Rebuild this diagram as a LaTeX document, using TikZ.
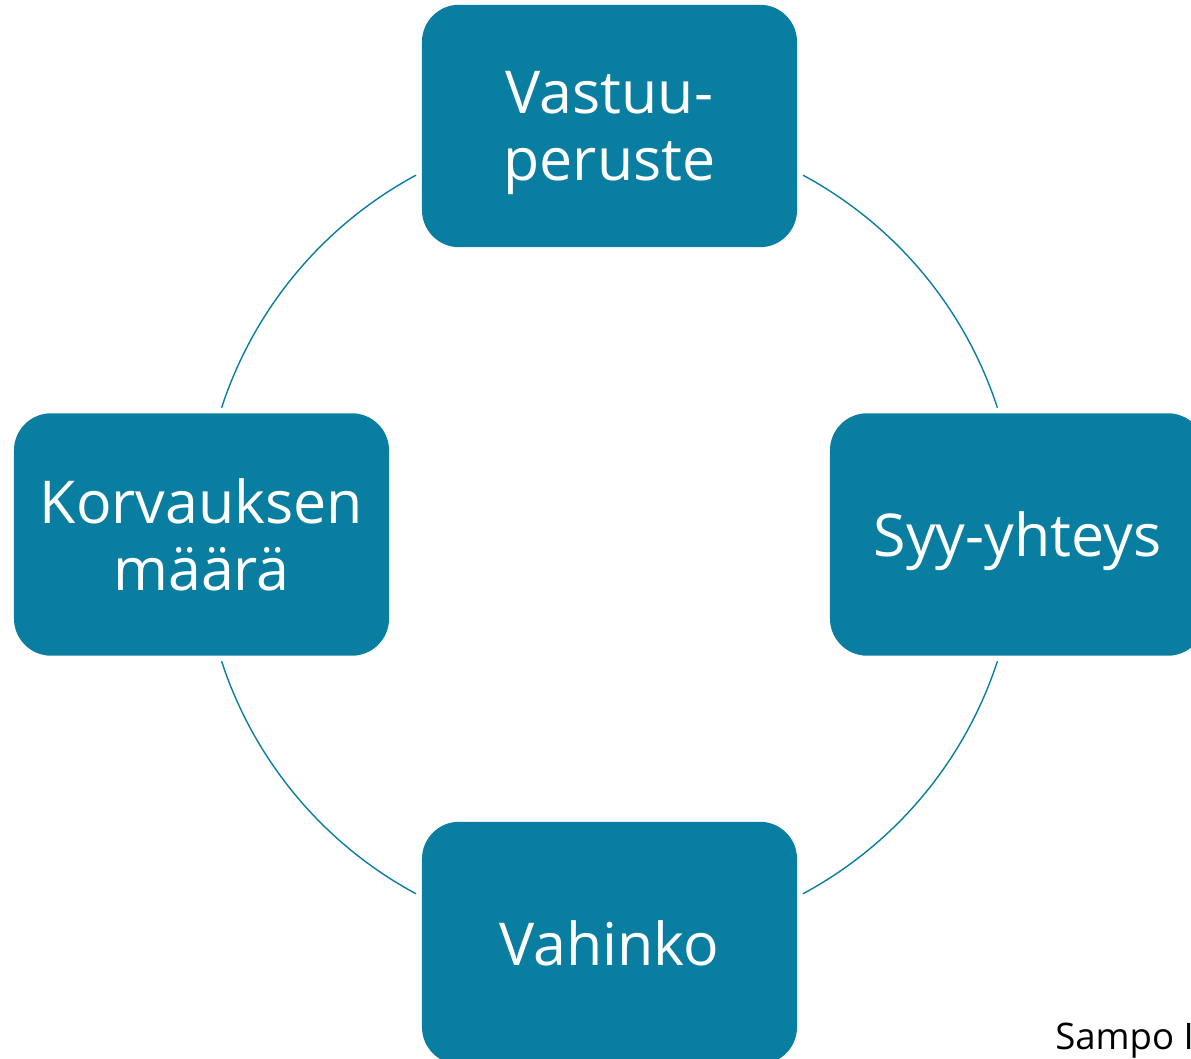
\documentclass[tikz,border=0pt]{standalone}
\usepackage{fontspec}
\setmainfont{Open Sans}
\definecolor{teal7}{RGB}{9,126,160}
\tikzset{
  box/.style={fill=teal7, text=white, rounded corners=0.93cm, minimum width=9.375cm,
    minimum height=6.06cm, inner sep=0pt, text depth=0pt, align=center,
    font=\fontsize{42}{47.7}\selectfont},
  ring/.style={draw=teal7, line width=1pt}
}
\begin{document}
\begin{tikzpicture}[x=0.025cm,y=0.025cm]
\useasboundingbox (0,0) rectangle (1191,1059);
\coordinate (c) at (609.5,524.5);
\node[box] (vastuu) at (609.5,933) {Vastuu-\\peruste};
\node[box] (syy) at (1017.5,524.5) {Syy-yhteys};
\node[box] (vahinko) at (609.5,116) {Vahinko};
\node[box] (korvaus) at (201.5,524.5) {Korvauksen\\määrä};
\node[anchor=base west, inner sep=0pt, font=\fontsize{26}{30}\selectfont] (nimi) at (1055,9) {Sampo I};
% ring between the boxes
\foreach \s/\e in {18.1/61.7, 118.3/161.9, 198.1/241.7, 298.3/341.9}
  \draw[ring] ([shift={(\s:10.2cm)}]c) arc[start angle=\s, end angle=\e, radius=10.2cm];
\end{tikzpicture}
\end{document}
